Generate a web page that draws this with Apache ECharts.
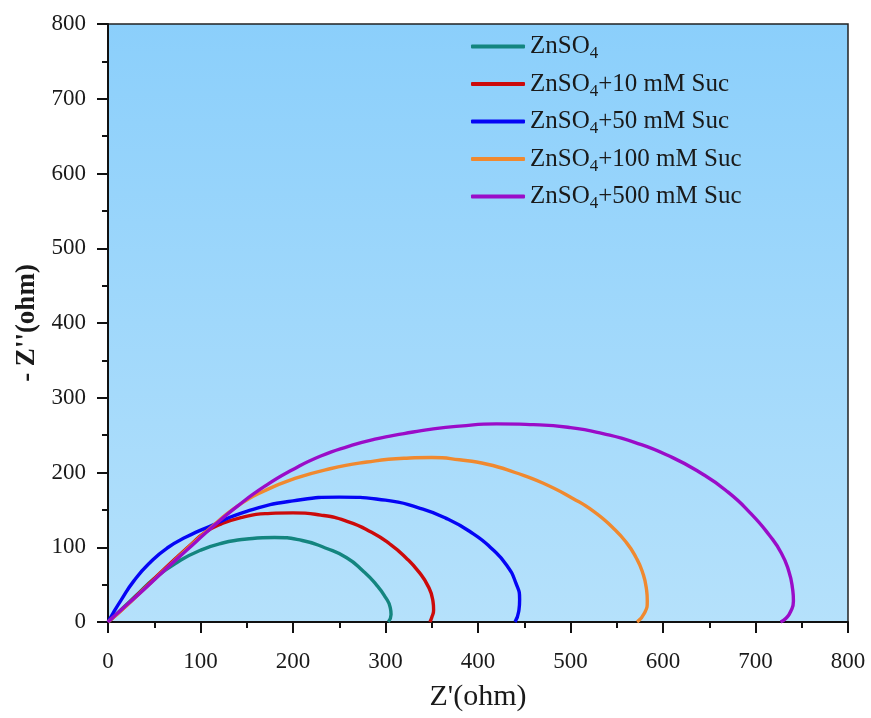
<!DOCTYPE html>
<html>
<head>
<meta charset="utf-8">
<script src="https://cdn.jsdelivr.net/npm/echarts@6/dist/echarts.min.js"></script>
<style>
  html, body { margin: 0; padding: 0; background: #ffffff; }
  #chart { width: 871px; height: 718px; }
</style>
</head>
<body>
<div id="chart"></div>
<script>
// Nyquist plots: [Z', -Z''] in ohm
const seriesNames = ['ZnSO4', 'ZnSO4+10 mM Suc', 'ZnSO4+50 mM Suc', 'ZnSO4+100 mM Suc', 'ZnSO4+500 mM Suc'];
const seriesColors = ['#13857F', '#CC0A0A', '#0505F5', '#F0892F', '#9A0CC8'];

const znso4 = [[0,0],[12,14],[30,35],[50,58],[75,80],[100,96],[125,106],[150,111],[180,113],[210,109],[235,99],[258,86],[276,68],[290,50],[300,33],[305,20],[306,10],[303,0]];
const suc10 = [[0,0],[12,13],[30,34],[60,70],[90,104],[105,120],[122,131],[145,140],[170,145],[200,146],[230,143],[260,134],[285,120],[305,104],[322,86],[336,67],[346,48],[351,30],[352,16],[350,6],[348,0]];
const suc50 = [[0,0],[6,13],[14,29],[28,55],[45,79],[64,99],[85,114],[112,129],[150,148],[200,162],[250,167],[300,163],[335,153],[365,139],[395,118],[415,98],[431,76],[441,52],[445,30],[444,14],[440,0]];
const suc100 = [[0,0],[15,16],[40,45],[70,80],[110,125],[140,155],[170,176],[200,191],[240,205],[280,214],[320,219],[350,220],[380,217],[410,211],[440,200],[470,186],[503,165],[525,148],[545,127],[560,107],[571,86],[578,66],[582,45],[583,28],[580,12],[572,0]];
const suc500 = [[0,0],[15,17],[35,39],[60,68],[85,96],[112,126],[140,155],[170,182],[200,204],[230,222],[260,235],[290,245],[320,252],[350,258],[380,262],[420,265],[460,264],[500,260],[535,252],[570,240],[605,223],[640,200],[670,174],[695,145],[715,116],[728,92],[736,68],[740,45],[741,28],[738,14],[733,5],[727,0]];

const seriesData = [znso4, suc10, suc50, suc100, suc500];

const xMin = 0, xMax = 800, xStep = 100;
const yMin = 0, yMax = 800, yStep = 100;

const chart = echarts.init(document.getElementById('chart'), null, { renderer: 'canvas' });

const serif = '"Liberation Serif", "Times New Roman", serif';

const axisCommon = {
  axisLine: { show: true, onZero: false, lineStyle: { color: '#111', width: 2 } },
  axisTick: { show: true, inside: false, length: 11, lineStyle: { color: '#111', width: 2 } },
  minorTick: { show: true, splitNumber: 2, length: 6, lineStyle: { color: '#111', width: 2 } },
  splitLine: { show: false },
  axisLabel: { color: '#1a1a1a', fontFamily: serif, fontSize: 23 }
};

// "ZnSO4..." with the 4 set as a subscript
function legendLabel(name) {
  const rest = name.slice(5);
  return '{a|ZnSO}{s|4}' + (rest ? '{a|' + rest + '}' : '');
}

chart.setOption({
  animation: false,
  textStyle: { fontFamily: serif },
  grid: {
    left: 108, right: 23, top: 24, bottom: 96,
    show: true,
    borderColor: '#222', borderWidth: 1.5,
    backgroundColor: new echarts.graphic.LinearGradient(0, 0, 0, 1, [
      { offset: 0, color: '#8BCFFB' },
      { offset: 1, color: '#B5E1FB' }
    ])
  },
  legend: {
    orient: 'vertical',
    left: 466, top: 29,
    itemWidth: 54, itemHeight: 4,
    itemGap: 9,
    icon: 'roundRect',
    data: seriesNames,
    formatter: legendLabel,
    textStyle: {
      color: '#1a1a1a',
      rich: {
        a: { fontFamily: serif, fontSize: 25, lineHeight: 32, color: '#1a1a1a', verticalAlign: 'middle' },
        s: { fontFamily: serif, fontSize: 17, lineHeight: 14, color: '#1a1a1a', verticalAlign: 'bottom' }
      }
    }
  },
  xAxis: Object.assign({}, axisCommon, {
    type: 'value', min: xMin, max: xMax, interval: xStep,
    name: "Z'(ohm)", nameLocation: 'middle', nameGap: 60,
    nameTextStyle: { fontFamily: serif, fontSize: 30, color: '#1a1a1a' },
    axisLabel: Object.assign({}, axisCommon.axisLabel, { margin: 28 })
  }),
  yAxis: Object.assign({}, axisCommon, {
    type: 'value', min: yMin, max: yMax, interval: yStep,
    name: "- Z''(ohm)", nameLocation: 'middle', nameGap: 66,
    nameTextStyle: { fontFamily: serif, fontSize: 27, fontWeight: 'bold', color: '#1a1a1a' },
    axisLabel: Object.assign({}, axisCommon.axisLabel, { margin: 22 })
  }),
  series: seriesNames.map((name, i) => ({
    name: name,
    type: 'line',
    data: seriesData[i],
    smooth: 0.55,
    showSymbol: false,
    symbol: 'none',
    lineStyle: { color: seriesColors[i], width: 3.4 },
    itemStyle: { color: seriesColors[i] },
    z: 2 + i
  }))
});
</script>
</body>
</html>
